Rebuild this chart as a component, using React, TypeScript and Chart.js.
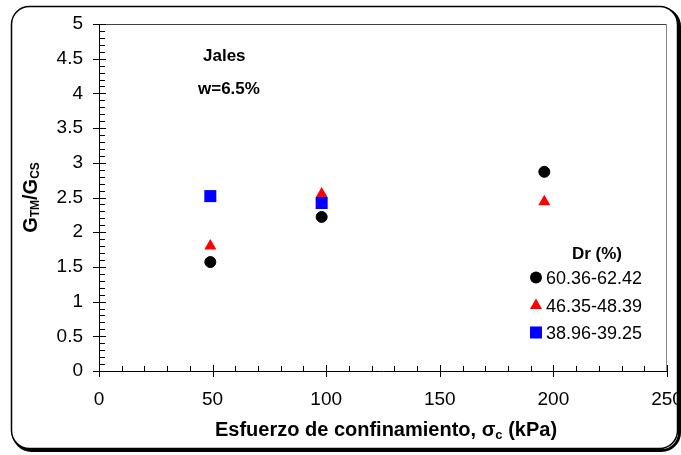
import React, { useEffect, useRef } from "react";
import { Chart, registerables } from "chart.js";

Chart.register(...registerables);

// ---- data ----
const pressureA = [49, 98, 196];
const ratioA = [1.57, 2.22, 2.87];
const pressureB = [49, 98, 196];
const ratioB = [1.8, 2.55, 2.44];
const pressureC = [49, 98];
const ratioC = [2.52, 2.42];
const seriesLabels = ["60.36-62.42", "46.35-48.39", "38.96-39.25"];
const seriesColors = ["#000000", "#FF0000", "#0000FF"];
const seriesShapes = ["circle", "triangle", "rect"];
const legendTitle = "Dr (%)";
const noteLines = ["Jales", "w=6.5%"];
const xRange = [0, 250];
const xMajorStep = 50;
const xMinorStep = 10;
const yRange = [0, 5];
const yMajorStep = 0.5;
const yMinorStep = 0.1;

const FONT = "'Liberation Sans', Arial, Helvetica, sans-serif";

type Part = { t: string; sub?: boolean };

function drawRich(ctx: CanvasRenderingContext2D, parts: Part[], cx: number, baseY: number, size: number, subSize: number, subOff: number) {
  const widths = parts.map((p) => {
    ctx.font = `bold ${p.sub ? subSize : size}px ${FONT}`;
    return ctx.measureText(p.t).width;
  });
  const total = widths.reduce((a, b) => a + b, 0);
  let x = cx - total / 2;
  ctx.textAlign = "left";
  ctx.textBaseline = "alphabetic";
  parts.forEach((p, i) => {
    ctx.font = `bold ${p.sub ? subSize : size}px ${FONT}`;
    ctx.fillText(p.t, x, baseY + (p.sub ? subOff : 0));
    x += widths[i];
  });
}

function marker(ctx: CanvasRenderingContext2D, shape: string, x: number, y: number, color: string) {
  ctx.fillStyle = color;
  ctx.beginPath();
  if (shape === "circle") {
    ctx.arc(x, y, 6, 0, Math.PI * 2);
  } else if (shape === "triangle") {
    const r = 7;
    ctx.moveTo(x, y - r);
    ctx.lineTo(x + r * 0.866, y + r / 2);
    ctx.lineTo(x - r * 0.866, y + r / 2);
    ctx.closePath();
  } else {
    ctx.rect(x - 6, y - 6, 12, 12);
  }
  ctx.fill();
}

function roundRect(ctx: CanvasRenderingContext2D, x: number, y: number, w: number, h: number, r: number) {
  ctx.beginPath();
  ctx.moveTo(x + r, y);
  ctx.lineTo(x + w - r, y);
  ctx.arcTo(x + w, y, x + w, y + r, r);
  ctx.lineTo(x + w, y + h - r);
  ctx.arcTo(x + w, y + h, x + w - r, y + h, r);
  ctx.lineTo(x + r, y + h);
  ctx.arcTo(x, y + h, x, y + h - r, r);
  ctx.lineTo(x, y + r);
  ctx.arcTo(x, y, x + r, y, r);
  ctx.closePath();
}

const decorPlugin = {
  id: "decor",
  beforeDraw(chart: any) {
    const ctx: CanvasRenderingContext2D = chart.ctx;
    ctx.save();
    ctx.fillStyle = "#ffffff";
    ctx.fillRect(0, 0, chart.width, chart.height);
    // shadow
    roundRect(ctx, 13.5, 8.5, 666, 442, 18);
    ctx.lineWidth = 3;
    ctx.strokeStyle = "#000";
    ctx.stroke();
    // frame
    roundRect(ctx, 11.5, 6.5, 666, 442, 18);
    ctx.fillStyle = "#fff";
    ctx.fill();
    ctx.lineWidth = 1.5;
    ctx.strokeStyle = "#000";
    ctx.stroke();
    ctx.restore();
  },
  afterDraw(chart: any) {
    const ctx: CanvasRenderingContext2D = chart.ctx;
    const { left, right, top, bottom } = chart.chartArea;
    const xs = chart.scales.x;
    const ys = chart.scales.y;
    ctx.save();
    // plot box
    ctx.lineWidth = 1;
    ctx.strokeStyle = "#404040";
    ctx.beginPath();
    ctx.moveTo(left, top + 0.5);
    ctx.lineTo(right, top + 0.5);
    ctx.stroke();
    ctx.strokeStyle = "#888888";
    ctx.beginPath();
    ctx.moveTo(right - 0.5, top);
    ctx.lineTo(right - 0.5, bottom);
    ctx.stroke();
    ctx.strokeStyle = "#000";
    ctx.beginPath();
    ctx.moveTo(left + 0.5, top);
    ctx.lineTo(left + 0.5, bottom + 0.5);
    ctx.lineTo(right, bottom + 0.5);
    ctx.stroke();
    // x ticks
    ctx.beginPath();
    const nx = Math.round((xRange[1] - xRange[0]) / xMinorStep);
    const xr = Math.round(xMajorStep / xMinorStep);
    for (let i = 0; i <= nx; i++) {
      const v = xRange[0] + i * xMinorStep;
      const px = Math.round(xs.getPixelForValue(v)) + 0.5;
      const major = i % xr === 0;
      ctx.moveTo(px, bottom + (major ? 6 : 0));
      ctx.lineTo(px, bottom - (major ? 6 : 5));
    }
    // y ticks
    const ny = Math.round((yRange[1] - yRange[0]) / yMinorStep);
    const yr = Math.round(yMajorStep / yMinorStep);
    for (let i = 0; i <= ny; i++) {
      const v = yRange[0] + i * yMinorStep;
      const py = Math.round(ys.getPixelForValue(v)) + 0.5;
      const major = i % yr === 0;
      ctx.moveTo(left - (major ? 6 : 0), py);
      ctx.lineTo(left + (major ? 7 : 6), py);
    }
    ctx.stroke();

    ctx.fillStyle = "#000";
    // x title
    drawRich(ctx, [{ t: "Esfuerzo de confinamiento, σ" }, { t: "c", sub: true }, { t: " (kPa)" }], 386, 436, 20, 13, 3);
    // y title
    ctx.save();
    ctx.translate(36.5, (top + bottom) / 2);
    ctx.rotate(-Math.PI / 2);
    drawRich(ctx, [{ t: "G" }, { t: "TM", sub: true }, { t: "/G" }, { t: "CS", sub: true }], 0, 0, 20, 12, 2.5);
    ctx.restore();

    // notes
    ctx.font = `bold 17px ${FONT}`;
    ctx.textAlign = "left";
    ctx.textBaseline = "alphabetic";
    ctx.fillText(noteLines[0], 203, 61);
    ctx.fillText(noteLines[1], 198, 94);

    // legend
    ctx.textAlign = "center";
    ctx.fillText(legendTitle, 597, 259);
    ctx.font = `18px ${FONT}`;
    ctx.textAlign = "left";
    const rowsY = [284, 312, 339];
    seriesLabels.forEach((lab, i) => {
      marker(ctx, seriesShapes[i], 536, rowsY[i] - 6.5, seriesColors[i]);
      ctx.fillStyle = "#000";
      ctx.fillText(lab, 546, rowsY[i]);
    });
    ctx.restore();
  },
};

export default function App() {
  const ref = useRef<HTMLCanvasElement | null>(null);
  useEffect(() => {
    if (!ref.current) return;
    const mk = (xs: number[], ys: number[]) => xs.map((x, i) => ({ x, y: ys[i] }));
    const fmt = (v: any) => String(Number(v));
    const chart = new Chart(ref.current, {
      type: "scatter",
      data: {
        datasets: [
          {
            label: seriesLabels[0],
            data: mk(pressureA, ratioA),
            pointStyle: "circle",
            pointRadius: 5.5,
            backgroundColor: seriesColors[0],
            borderColor: seriesColors[0],
            borderWidth: 1,
            order: 2,
          },
          {
            label: seriesLabels[1],
            data: mk(pressureB, ratioB),
            pointStyle: "triangle",
            pointRadius: 7,
            backgroundColor: seriesColors[1],
            borderColor: seriesColors[1],
            borderWidth: 0,
            order: 1,
          },
          {
            label: seriesLabels[2],
            data: mk(pressureC, ratioC),
            pointStyle: "rect",
            pointRadius: 8.5,
            backgroundColor: seriesColors[2],
            borderColor: seriesColors[2],
            borderWidth: 0,
            order: 0,
          },
        ],
      },
      options: {
        responsive: false,
        animation: false,
        events: [],
        layout: { padding: { left: 0, top: 24, right: 14, bottom: 0 } },
        plugins: { legend: { display: false }, tooltip: { enabled: false }, title: { display: false } },
        scales: {
          x: {
            type: "linear",
            min: xRange[0],
            max: xRange[1],
            grid: { display: false, drawTicks: false },
            border: { display: false },
            ticks: { stepSize: xMajorStep, color: "#000", font: { family: FONT, size: 19 }, padding: 17, maxRotation: 0, callback: fmt },
            afterFit: (s: any) => {
              s.height = 84;
              s.paddingLeft = 0;
              s.paddingRight = 0;
            },
          },
          y: {
            type: "linear",
            min: yRange[0],
            max: yRange[1],
            grid: { display: false, drawTicks: false },
            border: { display: false },
            ticks: { stepSize: yMajorStep, color: "#000", font: { family: FONT, size: 19 }, padding: 16, callback: fmt },
            afterFit: (s: any) => {
              s.width = 99;
              s.paddingTop = 0;
              s.paddingBottom = 0;
            },
          },
        },
      },
      plugins: [decorPlugin],
    });
    return () => chart.destroy();
  }, []);
  return (
    <div style={{ position: "absolute", left: 0, top: 0, width: 681, height: 455 }}>
      <canvas ref={ref} width={681} height={455} style={{ display: "block" }} />
    </div>
  );
}
